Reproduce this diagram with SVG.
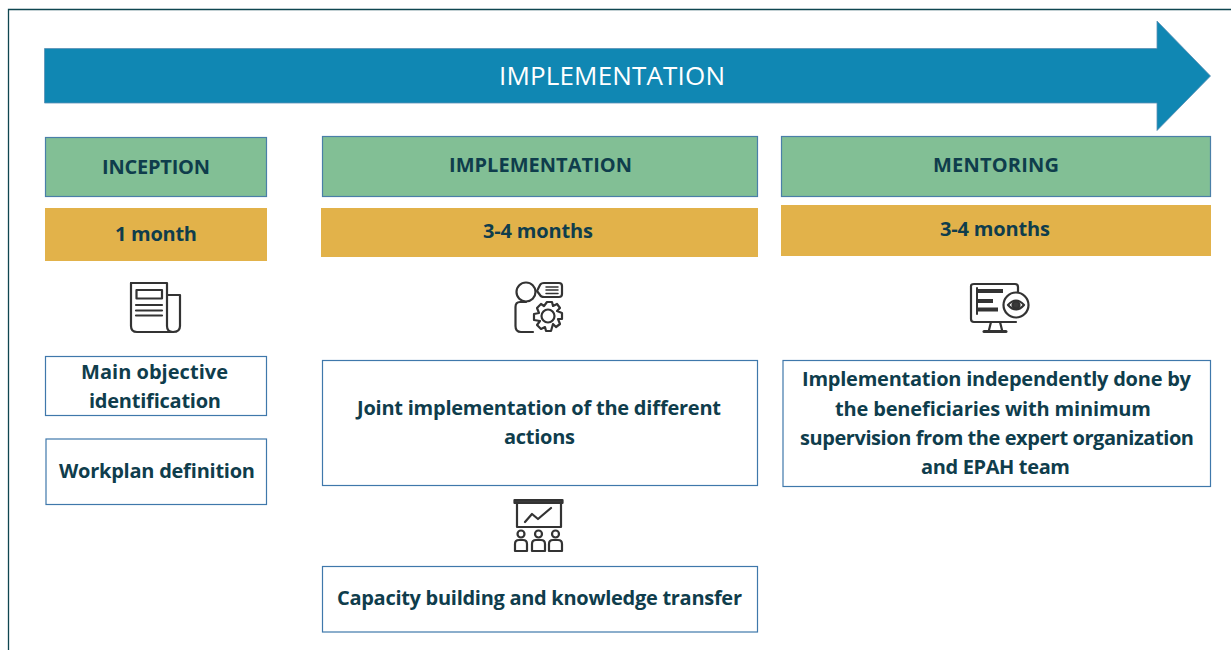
<svg xmlns="http://www.w3.org/2000/svg" width="1231" height="650" viewBox="0 0 1231 650">
<style>
text{font-family:"Open Sans","Noto Sans","Liberation Sans",sans-serif;fill:#0f3d4c;font-weight:700;text-anchor:middle;font-size:20px}
.g{fill:#82bf95;stroke:#4a7fa8;stroke-width:1.2}
.y{fill:#e2b24a}
.b{fill:#fff;stroke:#3f78ab;stroke-width:1.2}
.i{fill:none;stroke:#333;stroke-width:2.200;stroke-linejoin:round;stroke-linecap:round}
.f{fill:#3a3a3a}
</style>
<rect width="1231" height="650" fill="#fff"/>
<path d="M8.500 650V9.500H1231" fill="none" stroke="#0f4650" stroke-width="1.300"/>
<g id="main-arrow">
<path d="M44.500 48.500H1157V21L1210.500 76L1157 130.500V103H44.500Z" fill="#1087b3" stroke="#5b8fb5" stroke-width="0.800"/>
<text x="612" y="85" textLength="226" style="font-size:26px;font-weight:400;fill:#fff">IMPLEMENTATION</text>
</g>
<g id="inception-head"><rect class="g" x="45.500" y="137.500" width="221" height="59"/><text x="156" y="174" textLength="108">INCEPTION</text></g>
<g id="implementation-head"><rect class="g" x="322.500" y="136.500" width="435" height="60"/><text x="540.500" y="172" textLength="183">IMPLEMENTATION</text></g>
<g id="mentoring-head"><rect class="g" x="781.500" y="136.500" width="429" height="60"/><text x="996" y="172" textLength="126">MENTORING</text></g>
<g id="inception-time"><rect class="y" x="45" y="208" width="222" height="53"/><text x="156" y="241" textLength="82">1 month</text></g>
<g id="implementation-time"><rect class="y" x="321" y="208" width="437" height="49"/><text x="538" y="238" textLength="110">3-4 months</text></g>
<g id="mentoring-time"><rect class="y" x="781" y="205" width="430" height="51"/><text x="995" y="236" textLength="110">3-4 months</text></g>
<g id="icon-news" class="i">
<path d="M131 283H167V326Q167 332 173 332Q180 332 180 326V295H167"/>
<path d="M173 332H137Q131 332 131 326V283"/>
<rect x="136.500" y="290" width="25.500" height="8.500"/>
<path d="M136 305H162M136 310.500H162M136 315.500H162"/>
</g>
<g id="icon-person-gear" class="i">
<circle cx="526" cy="292" r="9.500"/>
<path d="M526 302H520Q515.500 302 515.500 307V326Q515.500 332 521 332H533"/>
<path d="M537 291L540 285Q541 283 544 283H559Q562 283 562 286V294Q562 297 559 297H544Q541 297 540 295Z"/>
<path d="M546 287H558M546 290H558M546 293.500H558" stroke-width="1.500"/>
<path d="M547 302H552L553 306L557 304L560 308L557 311L562 313V319L558 319L560 324L556 327L553 324L551 331H546L545 327L541 329L537 325L540 321L534 320V314L539 313L537 308L541 304L544 306Z"/>
<circle cx="548" cy="316" r="6.500"/>
</g>
<g id="icon-monitor-eye" class="i">
<path d="M1016 322H974Q971 322 971 319V286Q971 284 974 284H1015Q1018 284 1018 287V293"/>
<path d="M991 322L989 330M1000 322L1002 330"/>
<path d="M984 331.500H1006" stroke-width="3"/>
<path d="M978 291H1003M978 301H993M978 309.500H998" stroke-width="4" stroke-linecap="butt"/>
<path d="M977 288V314" stroke-width="2"/>
<circle cx="1016" cy="305" r="12.500" fill="#fff"/>
<path d="M1008 305Q1016 296 1024 305Q1016 314 1008 305Z"/>
<circle class="f" cx="1016" cy="305" r="3.500"/>
</g>
<g id="icon-presentation" class="i">
<rect x="514.500" y="500" width="48" height="3" class="f"/>
<rect x="517" y="503" width="44" height="24"/>
<path d="M525 522L532 514L538 519L551 508"/>
<g id="presenter-people">
<circle cx="521" cy="534" r="3.500"/><path d="M515 551V544Q515 540 519 540H523Q527 540 527 544V551Z"/>
<circle cx="538.500" cy="534" r="3.500"/><path d="M532 551V544Q532 540 536 540H541Q545 540 545 544V551Z"/>
<circle cx="555.500" cy="534" r="3.500"/><path d="M549 551V544Q549 540 553 540H558Q562 540 562 544V551Z"/>
</g>
</g>
<g id="objective"><rect class="b" x="45.500" y="356.500" width="221" height="59"/><text x="154.500" y="379" textLength="147">Main objective</text><text x="155" y="408" textLength="132">identification</text></g>
<g id="workplan"><rect class="b" x="46" y="439" width="220.500" height="65.500"/><text x="157" y="478" textLength="196">Workplan definition</text></g>
<g id="joint"><rect class="b" x="322.500" y="360.500" width="435" height="125"/><text x="539" y="415" textLength="364">Joint implementation of the different</text><text x="539.500" y="444" textLength="71">actions</text></g>
<g id="capacity"><rect class="b" x="322.500" y="566.500" width="435" height="65.500"/><text x="539.500" y="605" textLength="405">Capacity building and knowledge transfer</text></g>
<g id="independent"><rect class="b" x="783" y="360.500" width="427.500" height="126"/>
<text x="996.500" y="386" textLength="389">Implementation independently done by</text>
<text x="993" y="416" textLength="316">the beneficiaries with minimum</text>
<text x="997" y="445" textLength="394">supervision from the expert organization</text>
<text x="995.500" y="474" textLength="149">and EPAH team</text></g>
<g id="connectors"></g>
</svg>
